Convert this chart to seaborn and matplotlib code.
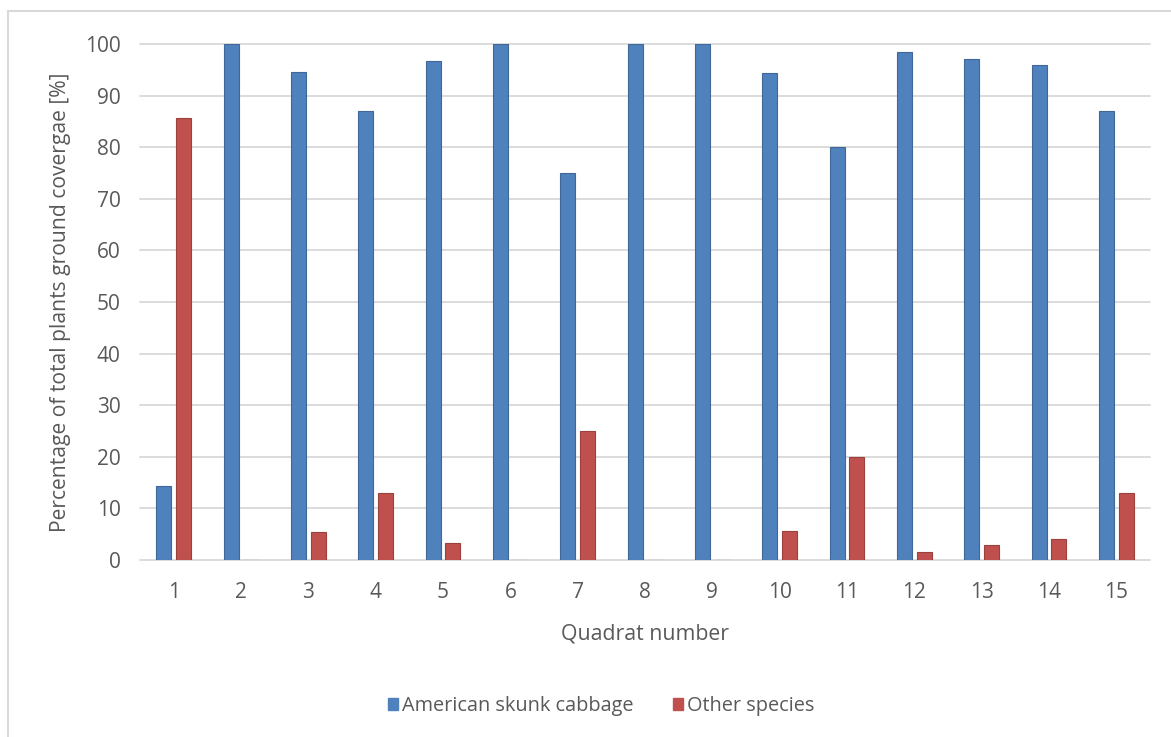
import matplotlib
matplotlib.use("Agg")
import matplotlib.pyplot as plt
from matplotlib.lines import Line2D
from matplotlib.patches import Patch
import seaborn as sns
import pandas as pd

# Ground coverage per quadrat (%)
quadrats = [str(i) for i in range(1, 16)]
skunk_cabbage = [14.3, 100, 94.6, 87.0, 96.8, 100, 75.0, 100, 100, 94.4, 80.0, 98.5, 97.0, 96.0, 87.0]
other_species = [85.7, 0, 5.4, 13.0, 3.2, 0, 25.0, 0, 0, 5.6, 20.0, 1.5, 3.0, 4.0, 13.0]
series_names = ["American skunk cabbage", "Other species"]
y_ticks = list(range(0, 101, 10))

BLUE = "#4F81BD"
RED = "#C0504D"
TEXT = "#595959"
GRID = "#D9D9D9"

df = pd.DataFrame({
    "Quadrat": quadrats * 2,
    "Coverage": skunk_cabbage + other_species,
    "Species": [series_names[0]] * len(quadrats) + [series_names[1]] * len(quadrats),
})

sns.set_theme(style="white")
plt.rcParams["font.family"] = ["Open Sans", "DejaVu Sans"]

W, H = 1171, 737
fig = plt.figure(figsize=(W / 100, H / 100), dpi=100)
ax = fig.add_axes([140 / W, 1 - 560 / H, (1150 - 140) / W, (560 - 44) / H])

sns.barplot(data=df, x="Quadrat", y="Coverage", hue="Species", order=quadrats,
            hue_order=series_names, palette=[BLUE, RED], width=0.59, gap=0.25,
            saturation=1, ax=ax, legend=False)

for bar in ax.patches:
    fc = bar.get_facecolor()
    bar.set_edgecolor(tuple(c * 0.8 for c in fc[:3]) + (1,))
    bar.set_linewidth(0.8)

ax.set_ylim(0, 100)
ax.set_yticks(y_ticks)
ax.set_yticklabels([str(v) for v in y_ticks])
ax.set_xlim(-0.5, len(quadrats) - 0.5)
ax.yaxis.grid(True, color=GRID, linewidth=1.3)
ax.set_axisbelow(True)
for line in ax.get_ygridlines():
    line.set_clip_on(False)
for s in ax.spines.values():
    s.set_visible(False)

ax.tick_params(axis="both", length=0, labelsize=15, labelcolor=TEXT)
ax.tick_params(axis="y", pad=14)
ax.tick_params(axis="x", pad=15.5)

ax.set_xlabel("Quadrat number", fontsize=15.3, color=TEXT, labelpad=15)
ax.set_ylabel("Percentage of total plants ground covergae [%]", fontsize=15.2,
              color=TEXT, labelpad=10)

handles = [Patch(facecolor=BLUE, edgecolor=BLUE), Patch(facecolor=RED, edgecolor=RED)]
fig.legend(handles, series_names, loc="center", ncol=2, frameon=False,
           bbox_to_anchor=(601 / W, 1 - 706 / H), bbox_transform=fig.transFigure,
           handlelength=0.5, handleheight=0.5, handletextpad=0.2, columnspacing=2.0,
           prop={"size": 14.3}, labelcolor=TEXT)

# Chart frame edges
fig.add_artist(Line2D([8 / W, 8 / W], [0, 1 - 11 / H], transform=fig.transFigure,
                      color=GRID, linewidth=1.5))
fig.add_artist(Line2D([8 / W, 1], [1 - 11 / H, 1 - 11 / H], transform=fig.transFigure,
                      color=GRID, linewidth=1.5))

fig.savefig("out.png", dpi=100, facecolor="white")
